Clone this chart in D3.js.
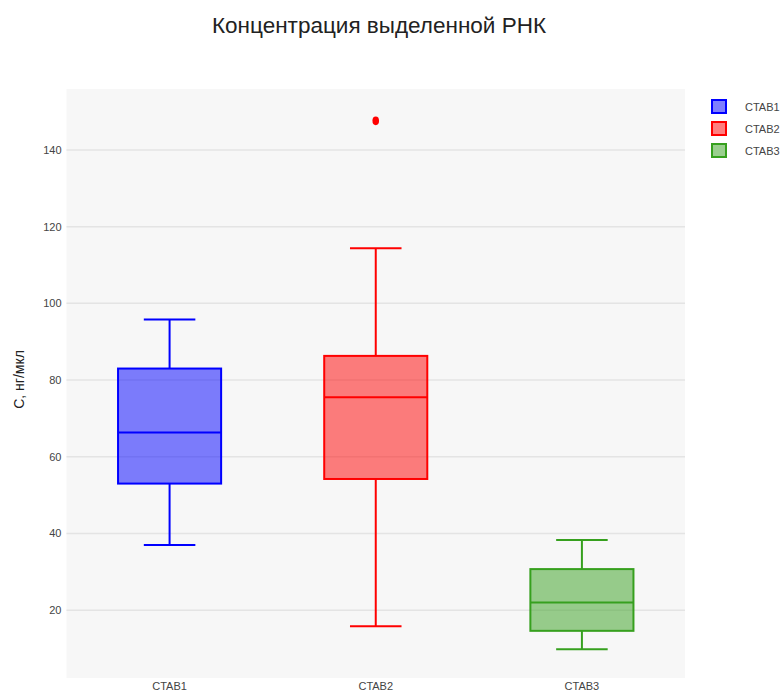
<!DOCTYPE html>
<html>
<head>
<meta charset="utf-8">
<script src="https://cdn.jsdelivr.net/npm/d3@7"></script>
<style>
  html, body { margin: 0; padding: 0; background: #ffffff; }
  svg { display: block; font-family: "Liberation Sans", Arial, sans-serif; }
</style>
</head>
<body>
<svg id="chart" width="781" height="691"></svg>
<script>
// Box summaries per extraction method (ng/µl)
const categories = ["CTAB1", "CTAB2", "CTAB3"];
const whiskerLow = [37.0, 15.8, 9.8];
const q1 = [53.0, 54.2, 14.6];
const median = [66.3, 75.5, 22.0];
const q3 = [83.0, 86.3, 30.7];
const whiskerHigh = [95.8, 114.4, 38.3];
const outliers = [[], [147.6], []];
const yTicks = [20, 40, 60, 80, 100, 120, 140];
const yDomain = [2.3, 155.9];

const strokeColors = ["#0000ff", "#ff0000", "#36a01e"];
const fillColors = ["rgba(0,0,255,0.5)", "rgba(255,0,0,0.5)", "rgba(54,160,30,0.5)"];

const svg = d3.select("#chart");
const margin = { left: 66.5, right: 96, top: 89, bottom: 13 };
const W = 781, H = 691;
const plotW = W - margin.left - margin.right;
const plotH = H - margin.top - margin.bottom;

const x = d3.scaleBand().domain(categories).range([0, plotW]).paddingInner(0).paddingOuter(0);
const y = d3.scaleLinear().domain(yDomain).range([plotH, 0]);

const g = svg.append("g").attr("transform", `translate(${margin.left},${margin.top})`);

// plot background
g.append("rect").attr("width", plotW).attr("height", plotH).attr("fill", "#f7f7f7");

// horizontal grid
g.append("g").selectAll("line").data(yTicks).join("line")
  .attr("x1", 0).attr("x2", plotW)
  .attr("y1", d => y(d)).attr("y2", d => y(d))
  .attr("stroke", "#e4e4e4").attr("stroke-width", 1.5);

// y axis labels
const yAxis = d3.axisLeft(y).tickValues(yTicks).tickSize(0).tickPadding(5);
g.append("g").call(yAxis)
  .call(a => a.select(".domain").remove())
  .selectAll("text").attr("font-size", 11).attr("fill", "#444")
  .attr("font-family", "Liberation Sans, Arial, sans-serif");

// x axis labels
const xAxis = d3.axisBottom(x).tickSize(0).tickPadding(4);
g.append("g").attr("transform", `translate(0,${plotH})`).call(xAxis)
  .call(a => a.select(".domain").remove())
  .selectAll("text").attr("font-size", 11).attr("fill", "#444")
  .attr("font-family", "Liberation Sans, Arial, sans-serif");

// boxes
const boxW = x.bandwidth() * 0.5;
const capW = boxW * 0.5;
categories.forEach((c, i) => {
  const cx = x(c) + x.bandwidth() / 2;
  const bg = g.append("g");
  const sc = strokeColors[i];
  // whiskers
  bg.append("line").attr("x1", cx).attr("x2", cx).attr("y1", y(q3[i])).attr("y2", y(whiskerHigh[i]))
    .attr("stroke", sc).attr("stroke-width", 2);
  bg.append("line").attr("x1", cx).attr("x2", cx).attr("y1", y(q1[i])).attr("y2", y(whiskerLow[i]))
    .attr("stroke", sc).attr("stroke-width", 2);
  [whiskerHigh[i], whiskerLow[i]].forEach(v => {
    bg.append("line").attr("x1", cx - capW / 2).attr("x2", cx + capW / 2).attr("y1", y(v)).attr("y2", y(v))
      .attr("stroke", sc).attr("stroke-width", 2);
  });
  // box
  bg.append("rect").attr("x", cx - boxW / 2).attr("width", boxW)
    .attr("y", y(q3[i])).attr("height", y(q1[i]) - y(q3[i]))
    .attr("fill", fillColors[i]).attr("stroke", sc).attr("stroke-width", 2);
  // median
  bg.append("line").attr("x1", cx - boxW / 2).attr("x2", cx + boxW / 2)
    .attr("y1", y(median[i])).attr("y2", y(median[i]))
    .attr("stroke", sc).attr("stroke-width", 2);
  // outliers
  bg.selectAll("ellipse").data(outliers[i]).join("ellipse")
    .attr("cx", cx).attr("cy", d => y(d)).attr("rx", 3.3).attr("ry", 4.3)
    .attr("fill", sc);
});

// title
svg.append("text").attr("x", 379).attr("y", 33).attr("text-anchor", "middle")
  .attr("font-size", 22.5).attr("fill", "#222").text("Концентрация выделенной РНК");

// y axis title
svg.append("text").attr("transform", `translate(24,${margin.top + plotH / 2 - 4}) rotate(-90)`)
  .attr("text-anchor", "middle").attr("font-size", 14).attr("fill", "#222").text("С, нг/мкл");

// legend
const lg = svg.append("g").attr("transform", "translate(711,100)");
categories.forEach((c, i) => {
  const row = lg.append("g").attr("transform", `translate(0,${i * 22})`);
  row.append("rect").attr("x", 1).attr("y", 0).attr("width", 14).attr("height", 13)
    .attr("fill", fillColors[i]).attr("stroke", strokeColors[i]).attr("stroke-width", 2);
  row.append("text").attr("x", 34).attr("y", 10.5).attr("font-size", 11).attr("fill", "#444").text(c);
});
</script>
</body>
</html>
